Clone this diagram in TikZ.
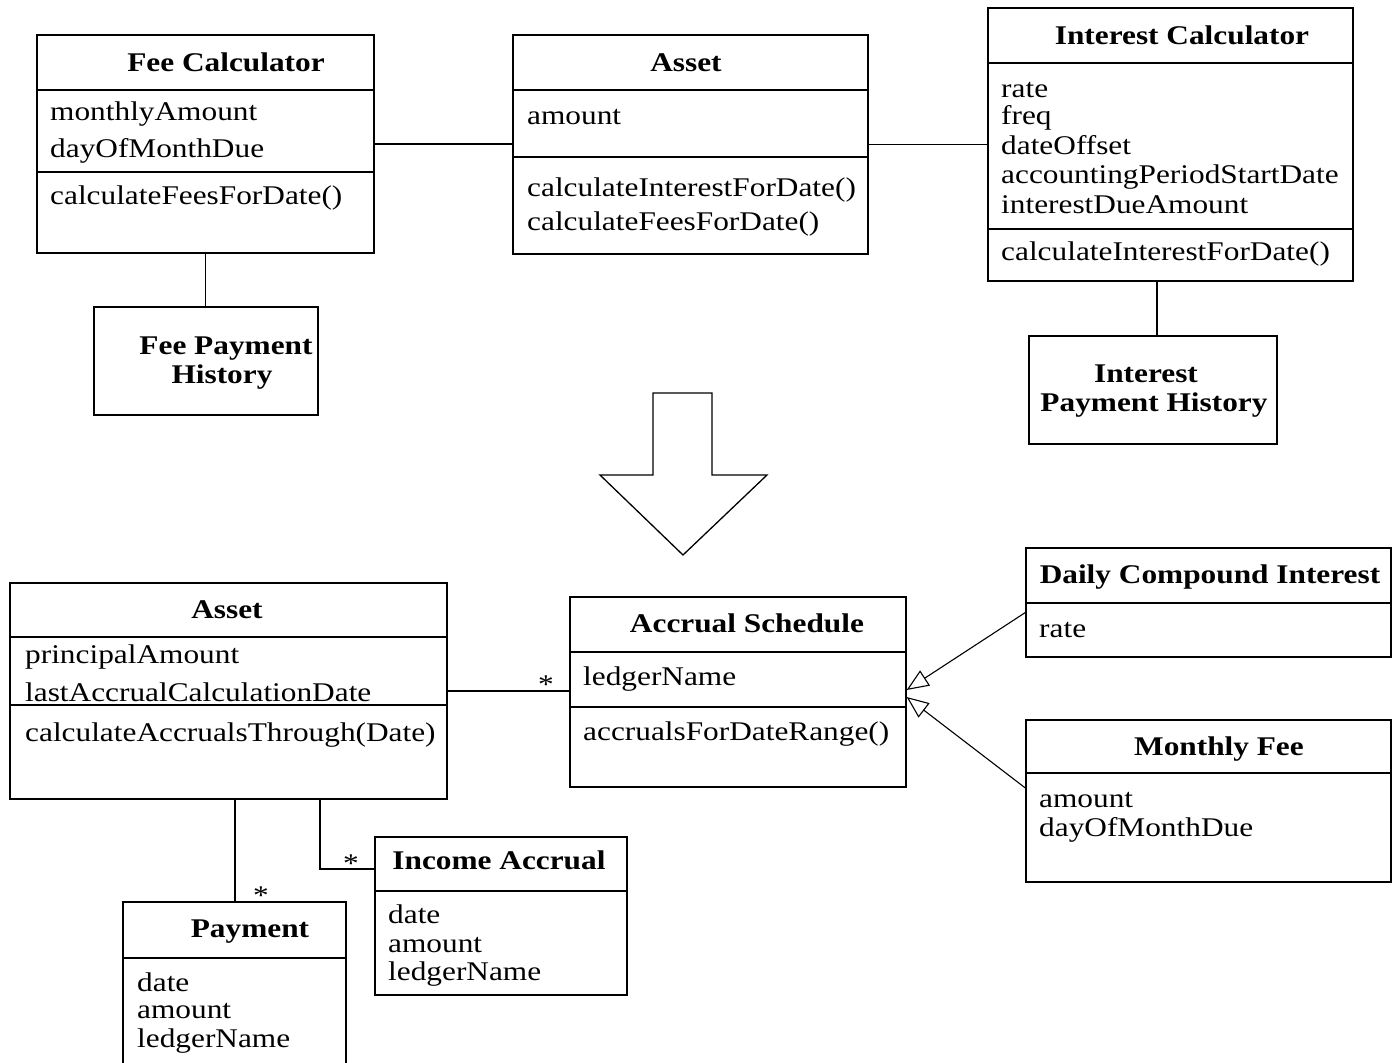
\documentclass[tikz,border=0pt]{standalone}
\usepackage{fontspec}
\setmainfont{Liberation Serif}[FakeStretch=1.16]
\usetikzlibrary{arrows.meta}
\newcommand{\umlbox}[5]{\node[ubox, minimum width={#4-#2}, minimum height={#5-#3}] (#1) at ({(#2+#4)/2},{(#3+#5)/2}) {};}
\newcommand{\hsep}[2]{\draw[sepline] (#1.west |- 0,#2) -- (#1.east |- 0,#2);}
\begin{document}
\begin{tikzpicture}[x=1pt,y=-1pt,
  ubox/.style={draw, line width=1.3pt, inner sep=0pt, rectangle},
  sepline/.style={line width=1.3pt},
  conn/.style={line width=1.1pt},
  gen/.style={conn, -{Triangle[open,length=22pt,width=18pt]}},
  txt/.style={inner sep=0pt, anchor=base west, font=\fontsize{27}{30}\selectfont},
  ttl/.style={inner sep=0pt, anchor=base, font=\fontsize{27}{30}\selectfont\bfseries},
  star/.style={inner sep=0pt, anchor=base, font=\fontsize{27}{30}\selectfont}]
\useasboundingbox[fill=white] (0,0) rectangle (1393,1063);

% ---------- top: Fee Calculator ----------
\umlbox{feecalc}{37}{35}{374}{253}
\hsep{feecalc}{90}
\hsep{feecalc}{172}
\node[ttl] (feecalc-t) at (226,71) {Fee Calculator};
\node[txt] (feecalc-a1) at (50,120) {monthlyAmount};
\node[txt] (feecalc-a2) at (50,157) {dayOfMonthDue};
\node[txt] (feecalc-m1) at (50,204) {calculateFeesForDate()};

% ---------- top: Asset ----------
\umlbox{asset1}{513}{35}{868}{254}
\hsep{asset1}{90}
\hsep{asset1}{157}
\node[ttl] (asset1-t) at (686,71) {Asset};
\node[txt] (asset1-a1) at (527,124) {amount};
\node[txt] (asset1-m1) at (527,196) {calculateInterestForDate()};
\node[txt] (asset1-m2) at (527,230) {calculateFeesForDate()};

% ---------- top: Interest Calculator ----------
\umlbox{intcalc}{988}{8}{1353}{281}
\hsep{intcalc}{63}
\hsep{intcalc}{229}
\node[ttl] (intcalc-t) at (1182,44) {Interest Calculator};
\node[txt] (intcalc-a1) at (1001,97) {rate};
\node[txt] (intcalc-a2) at (1001,124) {freq};
\node[txt] (intcalc-a3) at (1001,154) {dateOffset};
\node[txt] (intcalc-a4) at (1001,183) {accountingPeriodStartDate};
\node[txt] (intcalc-a5) at (1001,213) {interestDueAmount};
\node[txt] (intcalc-m1) at (1001,260) {calculateInterestForDate()};

% ---------- top: histories ----------
\umlbox{feeph}{94}{307}{318}{415}
\node[ttl] (feeph-t1) at (226,354) {Fee Payment};
\node[ttl] (feeph-t2) at (222,383) {History};

\umlbox{intph}{1029}{336}{1277}{444}
\node[ttl] (intph-t1) at (1146,382) {Interest};
\node[ttl] (intph-t2) at (1154,411) {Payment History};

% ---------- top connectors ----------
\draw[conn] (feecalc.east) -- (feecalc.east -| asset1.west);
\draw[conn] (asset1.east) -- (asset1.east -| intcalc.west);
\draw[conn] (feecalc.south) -- (feecalc.south |- feeph.north);
\coordinate (ij) at (1157,0);
\draw[conn] (ij |- intcalc.south) -- (ij |- intph.north);

% ---------- big refactoring arrow ----------
\draw[line width=1.3pt, line join=miter] (653,393) -- (712,393) -- (712,475) -- (767,475) -- (683,555) -- (600,475) -- (653,475) -- cycle;

% ---------- bottom: Asset ----------
\umlbox{asset2}{10}{583}{447}{799}
\hsep{asset2}{637}
\hsep{asset2}{705}
\node[ttl] (asset2-t) at (227,618) {Asset};
\node[txt] (asset2-a1) at (25,663) {principalAmount};
\node[txt] (asset2-a2) at (25,701) {lastAccrualCalculationDate};
\node[txt] (asset2-m1) at (25,741) {calculateAccrualsThrough(Date)};

% ---------- bottom: Accrual Schedule ----------
\umlbox{accsch}{570}{597}{906}{787}
\hsep{accsch}{652}
\hsep{accsch}{707}
\node[ttl] (accsch-t) at (747,632) {Accrual Schedule};
\node[txt] (accsch-a1) at (583,685) {ledgerName};
\node[txt] (accsch-m1) at (583,740) {accrualsForDateRange()};

% ---------- bottom: Daily Compound Interest ----------
\umlbox{dci}{1026}{548}{1391}{657}
\hsep{dci}{603}
\node[ttl] (dci-t) at (1210,583) {Daily Compound Interest};
\node[txt] (dci-a1) at (1039,637) {rate};

% ---------- bottom: Monthly Fee ----------
\umlbox{mfee}{1026}{720}{1391}{882}
\hsep{mfee}{773}
\node[ttl] (mfee-t) at (1219,755) {Monthly Fee};
\node[txt] (mfee-a1) at (1039,807) {amount};
\node[txt] (mfee-a2) at (1039,836) {dayOfMonthDue};

% ---------- bottom: Payment ----------
\umlbox{pay}{123}{902}{346}{1075}
\hsep{pay}{958}
\node[ttl] (pay-t) at (250,937) {Payment};
\node[txt] (pay-a1) at (137,991) {date};
\node[txt] (pay-a2) at (137,1018) {amount};
\node[txt] (pay-a3) at (137,1047) {ledgerName};

% ---------- bottom: Income Accrual ----------
\umlbox{inc}{375}{837}{627}{995}
\hsep{inc}{891}
\node[ttl] (inc-t) at (499,869) {Income Accrual};
\node[txt] (inc-a1) at (388,923) {date};
\node[txt] (inc-a2) at (388,952) {amount};
\node[txt] (inc-a3) at (388,980) {ledgerName};

% ---------- bottom connectors ----------
\draw[conn] (asset2.east) -- (asset2.east -| accsch.west);
\node[star] (s1) at (546,693) {*};
\coordinate (pj) at (235,0);
\draw[conn] (pj |- asset2.south) -- (pj |- pay.north);
\node[star] (s2) at (261,904) {*};
\coordinate (ij2) at (320,869);
\draw[conn] (ij2 |- asset2.south) -- (ij2) -- (ij2 -| inc.west);
\node[star] (s3) at (351,872) {*};
\draw[gen] ([yshift=-10pt]dci.west) -- ([yshift=2pt]accsch.east);
\draw[gen] ([yshift=13pt]mfee.west) -- ([yshift=-5pt]accsch.east);
\end{tikzpicture}
\end{document}
